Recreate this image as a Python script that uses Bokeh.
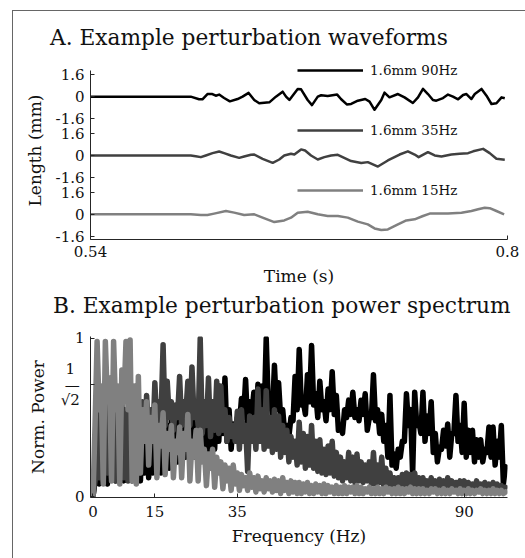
from bokeh.plotting import figure
from bokeh.models import Range1d, FixedTicker, Legend, LegendItem, Div
from bokeh.layouts import column
from bokeh.embed import file_html
from bokeh.resources import INLINE

FONT = "DejaVu Serif"

TITLE_A = "A. Example perturbation waveforms"
TITLE_B = "B. Example perturbation power spectrum"

# ---------------- Panel A data (time in s, length in mm) ----------------
TIME_90 = [0.54, 0.6025, 0.6077, 0.6098, 0.6129, 0.6160, 0.6181, 0.6202, 0.6233, 0.6269,
           0.6317, 0.6348, 0.6386, 0.6421, 0.6452, 0.6515, 0.6556, 0.6598, 0.6619, 0.6640,
           0.6692, 0.6713, 0.6754, 0.6781, 0.6817, 0.6838, 0.6879, 0.6938, 0.6963, 0.6998,
           0.7025, 0.7067, 0.7113, 0.7140, 0.7171, 0.7213, 0.7233, 0.7264, 0.7317, 0.7358,
           0.7410, 0.7442, 0.7473, 0.7504, 0.7535, 0.7556, 0.7598, 0.7629, 0.7660, 0.7692,
           0.7723, 0.7744, 0.7775, 0.7796, 0.7838, 0.7869, 0.7900, 0.7931, 0.7963, 0.7983]
LEN_90 = [0, 0, -0.19, -0.19, 0.19, 0.19, 0.07, 0.15, -0.1, -0.34,
          -0.17, 0, 0.27, -0.24, -0.48, -0.41, 0, 0.36, 0, -0.24,
          0.56, 0.53, -0.24, -0.61, 0, 0.1, 0.05, 0.15, -0.19, -0.56,
          -0.53, -0.29, -0.17, -0.36, -0.95, -0.24, 0.29, -0.05, 0.19, -0.05,
          -0.46, -0.05, 0.56, 0.19, -0.24, -0.29, -0.1, 0.15, 0, -0.19,
          0.12, 0.19, -0.17, 0.19, 0.56, 0.07, -0.53, -0.48, -0.05, -0.12]

TIME_35 = [0.54, 0.6025, 0.6056, 0.6088, 0.6119, 0.6161, 0.6202, 0.6233, 0.6275, 0.6327,
           0.6358, 0.64, 0.6421, 0.6473, 0.6536, 0.6577, 0.6608, 0.665, 0.6671, 0.6713,
           0.6738, 0.6775, 0.6817, 0.6858, 0.69, 0.6942, 0.7025, 0.7088, 0.7129, 0.7192,
           0.7254, 0.7327, 0.7379, 0.7421, 0.7446, 0.7504, 0.7546, 0.7588, 0.765, 0.7702,
           0.7754, 0.7786, 0.7848, 0.7889, 0.7931, 0.7983]
LEN_35 = [0, 0, -0.05, -0.12, 0, 0.17, 0.29, 0.17, 0, -0.17,
          -0.07, 0.05, 0.07, -0.24, -0.53, -0.29, 0, 0.12, 0.07, 0.44,
          0.36, 0, -0.29, -0.12, 0, 0.05, -0.4, -0.55, -0.48, -0.8,
          -0.36, 0.07, 0.3, 0.07, -0.12, 0.24, 0, -0.07, 0.07, 0.12,
          0.17, 0.3, 0.48, 0.17, -0.24, -0.3]

TIME_15 = [0.54, 0.6025, 0.6088, 0.6129, 0.6171, 0.6244, 0.6296, 0.6358, 0.6421, 0.6473,
           0.6546, 0.6608, 0.665, 0.6692, 0.6754, 0.6817, 0.6879, 0.6942, 0.7004, 0.7067,
           0.7129, 0.7171, 0.7213, 0.7254, 0.7317, 0.7369, 0.7421, 0.7473, 0.7515, 0.7567,
           0.7629, 0.7713, 0.7775, 0.7817, 0.7858, 0.7889, 0.7931, 0.7979]
LEN_15 = [0, 0, -0.05, -0.05, 0.05, 0.24, 0.12, -0.05, 0, -0.24,
          -0.56, -0.44, -0.24, 0.12, 0.19, 0, -0.12, -0.12, -0.24, -0.53,
          -0.73, -1.02, -1.14, -1.09, -0.73, -0.44, -0.36, -0.12, 0.05, 0.05,
          0.05, 0.12, 0.24, 0.36, 0.48, 0.44, 0.24, 0]

SERIES_LABELS = ["1.6mm 90Hz", "1.6mm 35Hz", "1.6mm 15Hz"]
AMP_TICKS = [1.6, 0, -1.6]
TIME_TICKS = [0.54, 0.8]

# ---------------- Panel B data (normalised power) ----------------
# peaks at whole Hz (0..100), troughs at half Hz (0.5..99.5)
BLACK_PEAKS = [
    0.00, 0.20, 0.25, 0.15, 0.30, 0.20, 0.30, 0.25, 0.35, 0.30,
    0.40, 0.35, 0.40, 0.45, 0.35, 0.45, 0.40, 0.50, 0.45, 0.50,
    0.55, 0.50, 0.55, 0.50, 0.60, 0.55, 0.60, 0.55, 0.60, 0.55,
    0.62, 0.60, 0.75, 0.55, 0.46, 0.50, 0.62, 0.74, 0.60, 0.66,
    0.71, 0.70, 1.00, 0.60, 0.83, 0.72, 0.55, 0.45, 0.50, 0.76,
    0.93, 0.60, 0.77, 0.955, 0.65, 0.73, 0.60, 0.68, 0.79, 0.64,
    0.45, 0.55, 0.61, 0.66, 0.55, 0.61, 0.65, 0.50, 0.77, 0.55,
    0.52, 0.45, 0.64, 0.27, 0.30, 0.35, 0.65, 0.55, 0.66, 0.48,
    0.66, 0.51, 0.60, 0.40, 0.31, 0.42, 0.46, 0.40, 0.64, 0.45,
    0.59, 0.42, 0.42, 0.36, 0.36, 0.30, 0.44, 0.44, 0.35, 0.45,
    0.19]
BLACK_TROUGHS = [
    0.10, 0.08, 0.12, 0.08, 0.12, 0.10, 0.12, 0.10, 0.15, 0.10,
    0.12, 0.10, 0.15, 0.12, 0.15, 0.18, 0.15, 0.20, 0.18, 0.20,
    0.22, 0.20, 0.25, 0.22, 0.25, 0.28, 0.25, 0.30, 0.28, 0.30,
    0.35, 0.40, 0.35, 0.30, 0.40, 0.45, 0.50, 0.45, 0.52, 0.48,
    0.55, 0.50, 0.58, 0.52, 0.55, 0.50, 0.40, 0.38, 0.48, 0.55,
    0.58, 0.52, 0.60, 0.58, 0.50, 0.55, 0.48, 0.55, 0.52, 0.42,
    0.40, 0.50, 0.52, 0.50, 0.48, 0.52, 0.42, 0.50, 0.48, 0.40,
    0.35, 0.25, 0.20, 0.18, 0.25, 0.35, 0.45, 0.14, 0.45, 0.40,
    0.35, 0.40, 0.28, 0.22, 0.30, 0.32, 0.25, 0.40, 0.35, 0.28,
    0.25, 0.28, 0.22, 0.25, 0.22, 0.28, 0.25, 0.20, 0.25, 0.08]
DARK_PEAKS = [
    0.00, 0.60, 0.50, 0.70, 0.55, 0.65, 0.50, 0.60, 0.55, 0.60,
    0.55, 0.50, 0.60, 0.64, 0.55, 0.72, 0.60, 0.96, 0.73, 0.60,
    0.58, 0.76, 0.60, 0.73, 0.82, 0.60, 1.00, 0.60, 0.75, 0.60,
    0.73, 0.70, 0.55, 0.50, 0.45, 0.54, 0.55, 0.45, 0.51, 0.50,
    0.68, 0.55, 0.67, 0.50, 0.55, 0.51, 0.45, 0.42, 0.38, 0.35,
    0.47, 0.40, 0.38, 0.45, 0.35, 0.36, 0.30, 0.32, 0.35, 0.28,
    0.25, 0.22, 0.28, 0.25, 0.27, 0.22, 0.20, 0.22, 0.28, 0.20,
    0.25, 0.18, 0.15, 0.12, 0.12, 0.14, 0.15, 0.14, 0.15, 0.12,
    0.12, 0.10, 0.12, 0.10, 0.11, 0.10, 0.12, 0.10, 0.09, 0.10,
    0.10, 0.09, 0.08, 0.10, 0.08, 0.09, 0.08, 0.09, 0.08, 0.07,
    0.06]
DARK_TROUGHS = [
    0.10, 0.12, 0.10, 0.15, 0.12, 0.10, 0.15, 0.12, 0.10, 0.15,
    0.12, 0.25, 0.35, 0.40, 0.35, 0.45, 0.50, 0.45, 0.50, 0.42,
    0.50, 0.45, 0.52, 0.45, 0.50, 0.45, 0.40, 0.45, 0.38, 0.42,
    0.40, 0.42, 0.35, 0.38, 0.35, 0.30, 0.35, 0.16, 0.35, 0.30,
    0.35, 0.30, 0.32, 0.28, 0.30, 0.25, 0.28, 0.22, 0.25, 0.20,
    0.22, 0.18, 0.20, 0.18, 0.16, 0.15, 0.14, 0.15, 0.13, 0.12,
    0.10, 0.12, 0.10, 0.09, 0.10, 0.09, 0.10, 0.08, 0.08, 0.09,
    0.06, 0.05, 0.06, 0.05, 0.06, 0.05, 0.06, 0.05, 0.05, 0.06,
    0.05, 0.04, 0.05, 0.05, 0.04, 0.05, 0.04, 0.05, 0.04, 0.05,
    0.04, 0.05, 0.04, 0.04, 0.05, 0.04, 0.04, 0.05, 0.04, 0.03]
GRAY_PEAKS = [
    0.00, 0.98, 0.70, 0.98, 0.75, 0.98, 0.70, 0.80, 0.98, 0.99,
    0.70, 0.76, 0.55, 0.60, 0.50, 0.58, 0.45, 0.53, 0.40, 0.45,
    0.35, 0.44, 0.40, 0.52, 0.35, 0.42, 0.42, 0.30, 0.27, 0.30,
    0.25, 0.22, 0.20, 0.18, 0.20, 0.15, 0.14, 0.12, 0.15, 0.12,
    0.13, 0.10, 0.12, 0.10, 0.11, 0.10, 0.12, 0.09, 0.10, 0.09,
    0.09, 0.08, 0.09, 0.07, 0.08, 0.07, 0.08, 0.07, 0.06, 0.07,
    0.06, 0.07, 0.06, 0.06, 0.07, 0.06, 0.05, 0.06, 0.05, 0.06,
    0.05, 0.06, 0.05, 0.05, 0.06, 0.05, 0.05, 0.06, 0.05, 0.05,
    0.05, 0.04, 0.05, 0.05, 0.04, 0.05, 0.04, 0.05, 0.04, 0.05,
    0.04, 0.05, 0.04, 0.04, 0.05, 0.04, 0.04, 0.05, 0.04, 0.04,
    0.03]
GRAY_TROUGHS = [
    0.45, 0.55, 0.08, 0.60, 0.10, 0.55, 0.08, 0.60, 0.55, 0.10,
    0.08, 0.15, 0.35, 0.20, 0.35, 0.12, 0.32, 0.14, 0.30, 0.12,
    0.28, 0.12, 0.30, 0.10, 0.25, 0.10, 0.22, 0.07, 0.18, 0.06,
    0.15, 0.05, 0.10, 0.04, 0.08, 0.04, 0.07, 0.04, 0.06, 0.03,
    0.05, 0.03, 0.05, 0.03, 0.04, 0.02, 0.04, 0.02, 0.03, 0.02,
    0.02, 0.03, 0.02, 0.02, 0.03, 0.02, 0.02, 0.03, 0.02, 0.02,
    0.02, 0.02, 0.03, 0.02, 0.02, 0.02, 0.03, 0.02, 0.02, 0.02,
    0.02, 0.03, 0.02, 0.02, 0.02, 0.02, 0.03, 0.02, 0.02, 0.02,
    0.02, 0.02, 0.03, 0.02, 0.02, 0.02, 0.02, 0.03, 0.02, 0.02,
    0.02, 0.02, 0.02, 0.03, 0.02, 0.02, 0.02, 0.02, 0.02, 0.02]
FREQ_TICKS = [0, 15, 35, 90]
SQRT_HALF = 0.7071067811865476
POWER_TICKS = [0, SQRT_HALF, 1]
POWER_TICK_TEXT = ["0", "1\u00a0\u00a0\n\u2014\u00a0\n\u221a2\u00a0", "1"]

COLORS = ["#000000", "#404040", "#808080"]
OFFSET = 4.25
AXIS_COLOR = "#262626"
TEXT_COLOR = "#111111"


def interleave(peaks, troughs):
    ys = []
    for pk, tr in zip(peaks, troughs):
        ys += [pk, tr]
    ys.append(peaks[-1])
    return ys


FREQ = [0.5 * i for i in range(2 * len(BLACK_TROUGHS) + 1)]


def style_axis(ax):
    ax.major_tick_in = 4
    ax.major_tick_out = 0
    ax.minor_tick_line_color = None
    ax.axis_line_color = AXIS_COLOR
    ax.major_tick_line_color = AXIS_COLOR
    ax.axis_line_width = 1
    ax.major_label_text_font = FONT
    ax.major_label_text_font_size = "15px"
    ax.major_label_text_color = TEXT_COLOR
    ax.axis_label_text_font = FONT
    ax.axis_label_text_font_size = "17px"
    ax.axis_label_text_font_style = "normal"
    ax.axis_label_text_color = TEXT_COLOR


def title_div(text, height, pad_top, pad_left):
    html = ('<div style="margin:%dpx 0 0 %dpx; font-family:\'DejaVu Serif\'; font-size:21.7px; '
            'line-height:24px; color:%s; white-space:nowrap;">%s</div>' % (pad_top, pad_left, TEXT_COLOR, text))
    return Div(text=html, width=512, height=height, margin=0)


# ---------------- Panel A ----------------
div_a = title_div(TITLE_A, 50, 15, 37)

p1 = figure(width=512, height=229, output_backend="svg", toolbar_location=None,
            x_range=Range1d(0.54, 0.8), y_range=Range1d(-10.32, 2.54),
            min_border_left=77, min_border_right=18, min_border_top=0,
            min_border_bottom=51)
p1.outline_line_color = None
p1.xgrid.visible = False
p1.ygrid.visible = False

renderers = []
for i, (t, v) in enumerate([(TIME_90, LEN_90), (TIME_35, LEN_35), (TIME_15, LEN_15)]):
    r = p1.line(t, [val - i * OFFSET for val in v], line_color=COLORS[i], line_width=2.5,
                line_join="round")
    renderers.append(r)

ytick_pos = []
overrides = {}
for i in range(3):
    for tk in AMP_TICKS:
        pos = tk - i * OFFSET
        ytick_pos.append(pos)
        overrides[pos] = "0" if tk == 0 else str(tk)
p1.yaxis.ticker = FixedTicker(ticks=ytick_pos)
p1.yaxis.major_label_overrides = overrides
p1.yaxis.bounds = (-10.32, 1.9)
p1.xaxis.ticker = FixedTicker(ticks=TIME_TICKS)
p1.xaxis.major_label_overrides = {0.54: "0.54", 0.8: "0.8"}
p1.xaxis.axis_label = "Time (s)"
p1.yaxis.axis_label = "Length (mm)"
style_axis(p1.xaxis[0])
style_axis(p1.yaxis[0])
p1.yaxis.major_label_standoff = 6
p1.xaxis.major_label_standoff = 6
p1.yaxis.axis_label_standoff = 8
p1.xaxis.axis_label_standoff = 6

legend = Legend(items=[LegendItem(label=SERIES_LABELS[i], renderers=[renderers[i]]) for i in range(3)],
                location=(207, 41), glyph_width=66, glyph_height=14, label_height=14,
                label_standoff=7, spacing=44, padding=0, margin=0,
                border_line_color=None, background_fill_alpha=0,
                label_text_font=FONT, label_text_font_size="13.5px", label_text_color=TEXT_COLOR)
p1.add_layout(legend)

# ---------------- Panel B ----------------
div_b = title_div(TITLE_B, 36, 4, 40)

p2 = figure(width=512, height=232, output_backend="svg", toolbar_location=None,
            x_range=Range1d(-0.6, 100.5), y_range=Range1d(-0.005, 1.012),
            min_border_left=77, min_border_right=8, min_border_top=10,
            min_border_bottom=61)
p2.outline_line_color = None
p2.xgrid.visible = False
p2.ygrid.visible = False

for peaks, troughs, col in [(BLACK_PEAKS, BLACK_TROUGHS, COLORS[0]),
                            (DARK_PEAKS, DARK_TROUGHS, COLORS[1]),
                            (GRAY_PEAKS, GRAY_TROUGHS, COLORS[2])]:
    p2.line(FREQ, interleave(peaks, troughs), line_color=col, line_width=5.5,
            line_join="round", line_cap="round")

p2.xaxis.ticker = FixedTicker(ticks=FREQ_TICKS)
p2.yaxis.ticker = FixedTicker(ticks=POWER_TICKS)
p2.yaxis.major_label_overrides = dict(zip(POWER_TICKS, POWER_TICK_TEXT))
p2.xaxis.axis_label = "Frequency (Hz)"
p2.yaxis.axis_label = "Norm. Power"
style_axis(p2.xaxis[0])
style_axis(p2.yaxis[0])
p2.yaxis.major_label_text_line_height = 0.85
p2.yaxis.major_label_standoff = 6
p2.xaxis.major_label_standoff = 8
p2.yaxis.axis_label_standoff = 10
p2.xaxis.axis_label_standoff = 6

layout = column(div_a, p1, div_b, p2, margin=(10, 0, 0, 12),
                styles={"border-left": "1px solid #666666", "border-top": "1px solid #666666"})

open("out.html", "w").write(file_html(layout, INLINE))
